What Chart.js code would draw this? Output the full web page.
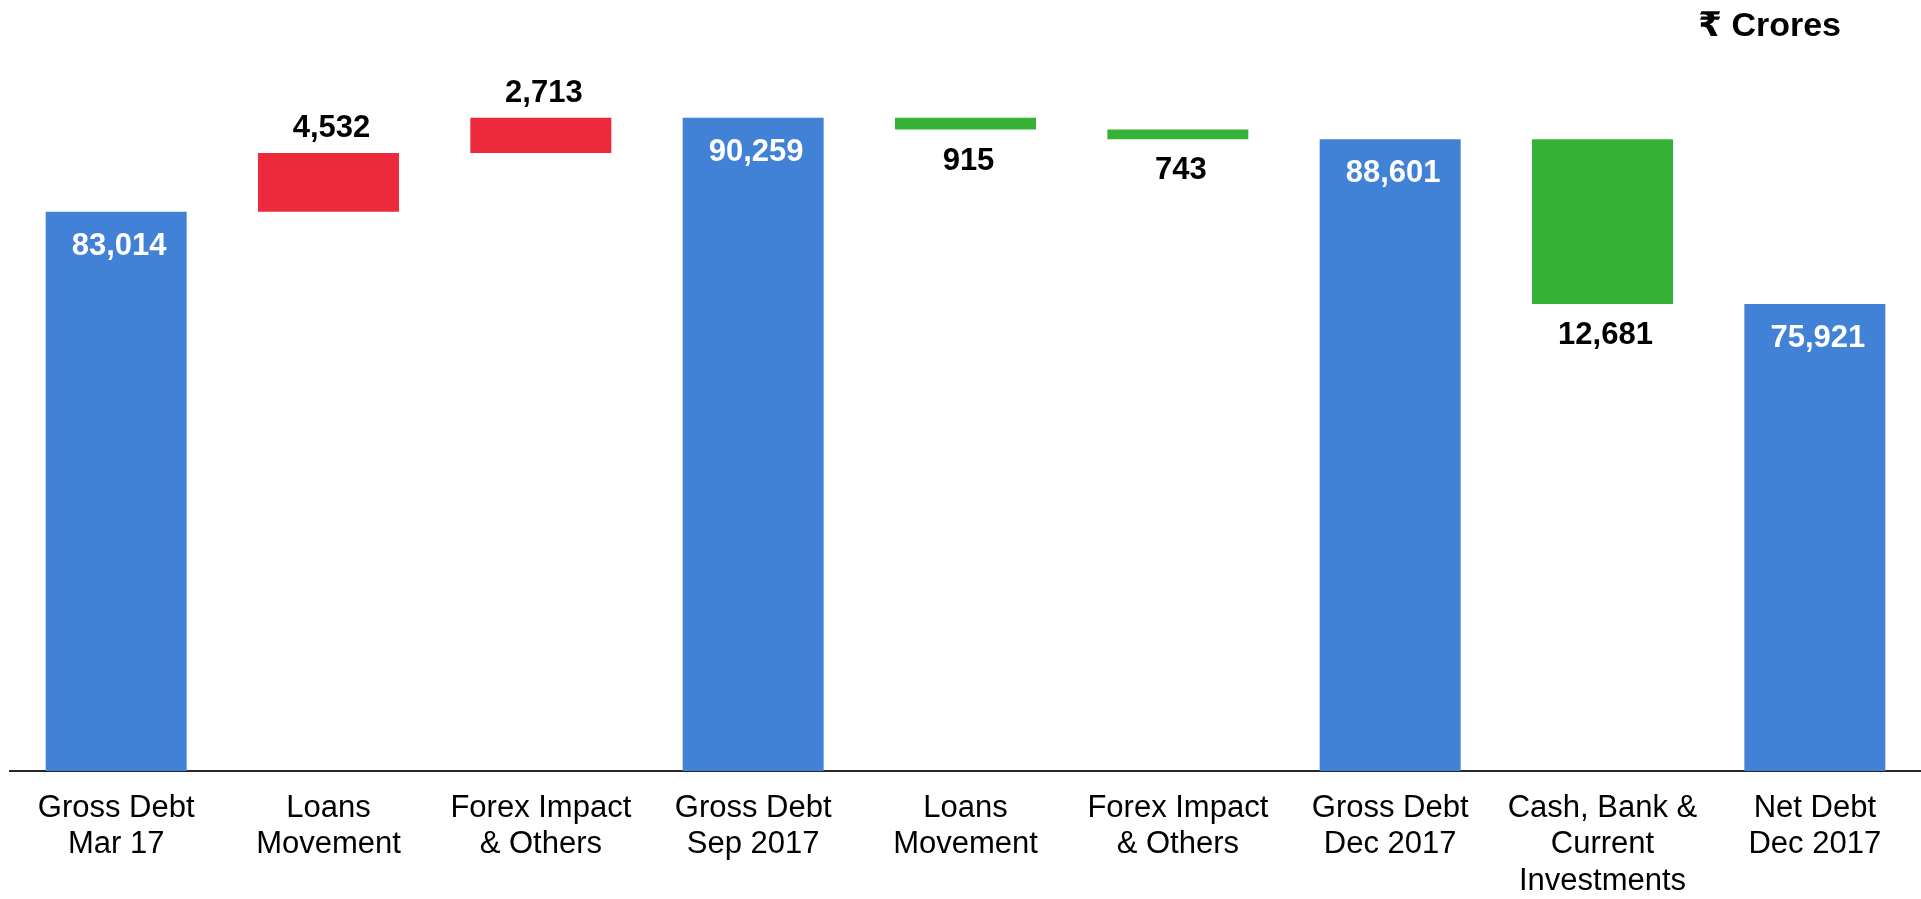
<!DOCTYPE html>
<html>
<head>
<meta charset="utf-8">
<title>Debt Bridge</title>
<script src="https://cdn.jsdelivr.net/npm/chart.js@4.4.1/dist/chart.umd.min.js"></script>
<style>
  html, body { margin: 0; padding: 0; background: #fff; }
  #wrap { position: relative; width: 1921px; height: 899px; }
  #unit {
    position: absolute; top: 7px; right: 80px;
    font: bold 34px Arial, "Liberation Sans", "DejaVu Sans", "Noto Sans", sans-serif;
    line-height: 1; color: #000;
  }
</style>
</head>
<body>
<div id="wrap">
  <canvas id="debtBridge"></canvas>
  <div id="unit">₹ Crores</div>
</div>
<script>
// Kategori (label sumbu X, multi baris)
const categories = [
  ['Gross Debt', 'Mar 17'],
  ['Loans', 'Movement'],
  ['Forex Impact', '& Others'],
  ['Gross Debt', 'Sep 2017'],
  ['Loans', 'Movement'],
  ['Forex Impact', '& Others'],
  ['Gross Debt', 'Dec 2017'],
  ['Cash, Bank &', 'Current', 'Investments'],
  ['Net Debt', 'Dec 2017'],
];

// Nilai dalam ₹ Crores: total = saldo, lainnya = perubahan (+ naik, - turun)
const amounts = [83014, 4532, 2713, 90259, -915, -743, 88601, -12681, 75921];
const isTotal = [true, false, false, true, false, false, true, false, true];

// Sumbu Y terpotong (tidak mulai dari 0)
const yMin = 40000;
const yMax = 98000;

const fontFamily = 'Arial, "Liberation Sans", sans-serif';

// Bangun rentang bar mengambang dari nilai di atas
let running = 0;
const ranges = amounts.map((v, i) => {
  if (isTotal[i]) {
    running = v;
    return [0, v];
  }
  const start = running;
  running += v;
  return [start, running];
});

const colors = amounts.map((v, i) => {
  if (isTotal[i]) return '#4182D7';
  return v > 0 ? '#EC2A3B' : '#36B236';
});

// Plugin sederhana untuk label nilai di setiap bar
const valueLabels = {
  id: 'valueLabels',
  afterDatasetsDraw(chart) {
    const ctx = chart.ctx;
    const meta = chart.getDatasetMeta(0);
    ctx.save();
    ctx.font = 'bold 31px ' + fontFamily;
    ctx.textAlign = 'center';
    ctx.textBaseline = 'alphabetic';
    meta.data.forEach((bar, i) => {
      const top = Math.min(bar.y, bar.base);
      const bottom = Math.max(bar.y, bar.base, 0);
      const barBottom = Math.max(bar.y, bar.base);
      const text = Math.abs(amounts[i]).toLocaleString('en-US');
      if (isTotal[i]) {
        ctx.fillStyle = '#ffffff';
        ctx.fillText(text, bar.x + 3, top + 43); // di dalam bar, dekat atas
      } else if (amounts[i] > 0) {
        ctx.fillStyle = '#000000';
        ctx.fillText(text, bar.x + 3, top - 16); // di atas bar merah
      } else {
        ctx.fillStyle = '#000000';
        ctx.fillText(text, bar.x + 3, barBottom + 40); // di bawah bar hijau
      }
    });
    ctx.restore();
  },
};

new Chart(document.getElementById('debtBridge'), {
  type: 'bar',
  data: {
    labels: categories,
    datasets: [
      {
        data: ranges,
        backgroundColor: colors,
        borderWidth: 0,
        borderSkipped: false,
        barPercentage: 0.664,
        categoryPercentage: 1.0,
      },
    ],
  },
  options: {
    responsive: true,
    maintainAspectRatio: false,
    animation: false,
    layout: {
      padding: { top: 17, left: 10, right: 0, bottom: 0 },
    },
    plugins: {
      legend: { display: false },
      tooltip: { enabled: false },
      title: { display: false },
    },
    scales: {
      x: {
        grid: { display: false, drawTicks: false },
        border: { display: true, color: '#262626', width: 2 },
        ticks: {
          color: '#000000',
          padding: 19,
          maxRotation: 0,
          autoSkip: false,
          font: { family: fontFamily, size: 31, lineHeight: 1.18 },
        },
        afterFit: (scale) => {
          scale.height = 128; // tinggi area label sumbu X
        },
      },
      y: {
        display: false,
        min: yMin,
        max: yMax,
      },
    },
  },
  plugins: [valueLabels],
});
</script>
</body>
</html>
